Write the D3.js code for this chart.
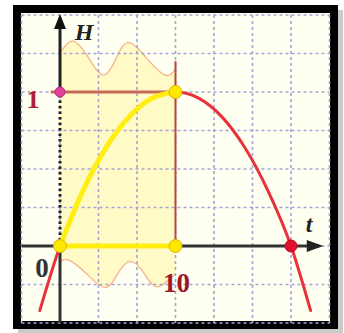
<!DOCTYPE html>
<html>
<head>
<meta charset="utf-8">
<script src="https://cdn.jsdelivr.net/npm/d3@7"></script>
<style>
  body { margin: 0; background: #fff; }
  svg { display: block; }
</style>
</head>
<body>
<div id="chart"></div>
<script>
// values (t in seconds, H in units of H max)
var curveT = [-1.75, 0, 2, 4, 6, 8, 10, 12, 14, 16, 18, 20, 21.7];
var curveH = [-0.42, 0, 0.36, 0.64, 0.84, 0.96, 1, 0.96, 0.84, 0.64, 0.36, 0, -0.42];
var topT = [0, 1.1, 2.4, 3.7, 4.8, 5.9, 7.5, 9.1, 10];
var topH = [1.25, 1.33, 1.23, 1.11, 1.21, 1.32, 1.22, 1.11, 1.15];
var botT = [0, 0.7, 2.3, 3.9, 5.0, 6.1, 7.3, 8.4, 10];
var botH = [-0.11, -0.09, -0.18, -0.27, -0.18, -0.1, -0.18, -0.265, -0.18];
var tickLabels = [{ t: 0, text: "0" }, { t: 10, text: "10" }];
var hLabels = [{ h: 1, text: "1" }];

var width = 344, height = 333;
var x = d3.scaleLinear().domain([-10 / 3, 70 / 3]).range([21.5, 329.5]);
var y = d3.scaleLinear().domain([-0.5, 1.5]).range([323, 15]);

var svg = d3.select("#chart").append("svg")
    .attr("width", width)
    .attr("height", height);

// frame + shadow
svg.append("rect").attr("x", 18).attr("y", 10).attr("width", 325).attr("height", 323)
    .attr("fill", "#a8a8a8").attr("opacity", 0.6);
svg.append("rect").attr("x", 17).attr("y", 9).attr("width", 317).attr("height", 316)
    .attr("fill", "#fffff2").attr("stroke", "#000").attr("stroke-width", 8);

var curvePts = curveT.map(function(t, i) { return { t: t, h: curveH[i] }; });
var topPts = topT.map(function(t, i) { return { t: t, h: topH[i] }; });
var botPts = botT.map(function(t, i) { return { t: t, h: botH[i] }; });

var line = d3.line()
    .x(function(d) { return x(d.t); })
    .y(function(d) { return y(d.h); })
    .curve(d3.curveMonotoneX);
var wave = d3.line()
    .x(function(d) { return x(d.t); })
    .y(function(d) { return y(d.h); })
    .curve(d3.curveNatural);

// wavy band between t = 0 and t = 10
var topPath = wave(topPts);
var botBack = wave(botPts.slice().reverse());
svg.append("path")
    .attr("d", topPath + "L" + x(10) + "," + y(botPts[botPts.length - 1].h) + botBack.replace(/^M/, "L") + "Z")
    .attr("fill", "#fffac6");
svg.append("path").attr("d", topPath).attr("fill", "none")
    .attr("stroke", "#f4b48a").attr("stroke-width", 1.3);
svg.append("path").attr("d", wave(botPts)).attr("fill", "none")
    .attr("stroke", "#f4b48a").attr("stroke-width", 1.3);

// grid
var step = 10 / 3;
var gx = d3.range(-10 / 3, 70 / 3 + 0.01, step);
var gy = d3.range(-0.5, 1.51, 0.25);
svg.append("g").selectAll("line").data(gx).enter().append("line")
    .attr("x1", function(d) { return x(d); }).attr("x2", function(d) { return x(d); })
    .attr("y1", y(1.5)).attr("y2", y(-0.5))
    .attr("stroke", "#a4a4d4").attr("stroke-width", 1.6).attr("stroke-dasharray", "3,3");
svg.append("g").selectAll("line").data(gy).enter().append("line")
    .attr("y1", function(d) { return y(d); }).attr("y2", function(d) { return y(d); })
    .attr("x1", x(-10 / 3)).attr("x2", x(70 / 3))
    .attr("stroke", "#a4a4d4").attr("stroke-width", 1.6).attr("stroke-dasharray", "3,3");

// guide lines to the vertex
svg.append("line").attr("x1", x(-0.8)).attr("x2", x(10)).attr("y1", y(1)).attr("y2", y(1))
    .attr("stroke", "#c86a58").attr("stroke-width", 3);
svg.append("line").attr("x1", x(10)).attr("x2", x(10)).attr("y1", y(1.2)).attr("y2", y(0))
    .attr("stroke", "#b84a3c").attr("stroke-width", 2);

// axes
svg.append("line").attr("x1", x(-10 / 3)).attr("x2", x(22.4)).attr("y1", y(0)).attr("y2", y(0))
    .attr("stroke", "#333").attr("stroke-width", 3);
svg.append("path")
    .attr("d", "M" + (x(22.4) - 12) + "," + (y(0) - 6) + "L" + x(22.8) + "," + y(0) + "L" + (x(22.4) - 12) + "," + (y(0) + 6) + "Z")
    .attr("fill", "#222");
svg.append("line").attr("x1", x(0)).attr("x2", x(0)).attr("y1", y(-0.5)).attr("y2", y(0))
    .attr("stroke", "#333").attr("stroke-width", 3);
svg.append("line").attr("x1", x(0)).attr("x2", x(0)).attr("y1", y(1)).attr("y2", y(1.45))
    .attr("stroke", "#222").attr("stroke-width", 3);
svg.append("line").attr("x1", x(0)).attr("x2", x(0)).attr("y1", y(0)).attr("y2", y(1))
    .attr("stroke", "#222").attr("stroke-width", 3).attr("stroke-dasharray", "2.5,3");
svg.append("path")
    .attr("d", "M" + (x(0) - 6) + "," + (y(1.5) + 14) + "L" + x(0) + "," + (y(1.5) - 1) + "L" + (x(0) + 6) + "," + (y(1.5) + 14) + "Z")
    .attr("fill", "#111");

// red trajectory, yellow rising part
svg.append("path").attr("d", line(curvePts)).attr("fill", "none")
    .attr("stroke", "#e8323a").attr("stroke-width", 3).attr("stroke-linecap", "round");
svg.append("path").attr("d", line(curvePts.filter(function(d) { return d.t >= 0 && d.t <= 10; })))
    .attr("fill", "none").attr("stroke", "#ffee10").attr("stroke-width", 5);
svg.append("line").attr("x1", x(0)).attr("x2", x(10)).attr("y1", y(0)).attr("y2", y(0))
    .attr("stroke", "#ffee10").attr("stroke-width", 5);

// points
var pts = [
  { t: 0, h: 1, r: 5, c: "#e0409a", s: "#c02880" },
  { t: 20, h: 0, r: 6, c: "#e01030", s: "#c00020" },
  { t: 0, h: 0, r: 6.5, c: "#ffe800", s: "#d8b400" },
  { t: 10, h: 0, r: 6.5, c: "#ffe800", s: "#d8b400" },
  { t: 10, h: 1, r: 6.5, c: "#ffe800", s: "#d8b400" }
];
svg.append("g").selectAll("circle").data(pts).enter().append("circle")
    .attr("cx", function(d) { return x(d.t); }).attr("cy", function(d) { return y(d.h); })
    .attr("r", function(d) { return d.r; })
    .attr("fill", function(d) { return d.c; })
    .attr("stroke", function(d) { return d.s; }).attr("stroke-width", 1);

// labels
var serif = "'Liberation Serif', 'DejaVu Serif', serif";
svg.append("text").attr("x", 84).attr("y", 40).attr("text-anchor", "middle")
    .attr("font-family", serif).attr("font-style", "italic").attr("font-weight", "bold")
    .attr("font-size", 24).attr("fill", "#222").text("H");
svg.append("text").attr("x", 309).attr("y", 232).attr("text-anchor", "middle")
    .attr("font-family", serif).attr("font-style", "italic").attr("font-weight", "bold")
    .attr("font-size", 24).attr("fill", "#222").text("t");
svg.append("g").selectAll("text").data(hLabels).enter().append("text")
    .attr("x", 33).attr("y", function(d) { return y(d.h) + 16; }).attr("text-anchor", "middle")
    .attr("font-family", serif).attr("font-weight", "bold").attr("font-size", 26)
    .attr("fill", "#b02030").text(function(d) { return d.text; });
svg.append("g").selectAll("text").data(tickLabels).enter().append("text")
    .attr("x", function(d) { return d.t === 0 ? 42 : x(d.t) + 1; })
    .attr("y", function(d) { return d.t === 0 ? 277 : 292; })
    .attr("text-anchor", "middle")
    .attr("font-family", serif).attr("font-weight", "bold").attr("font-size", 27)
    .attr("fill", function(d) { return d.t === 0 ? "#333" : "#a01828"; })
    .text(function(d) { return d.text; });
</script>
</body>
</html>
